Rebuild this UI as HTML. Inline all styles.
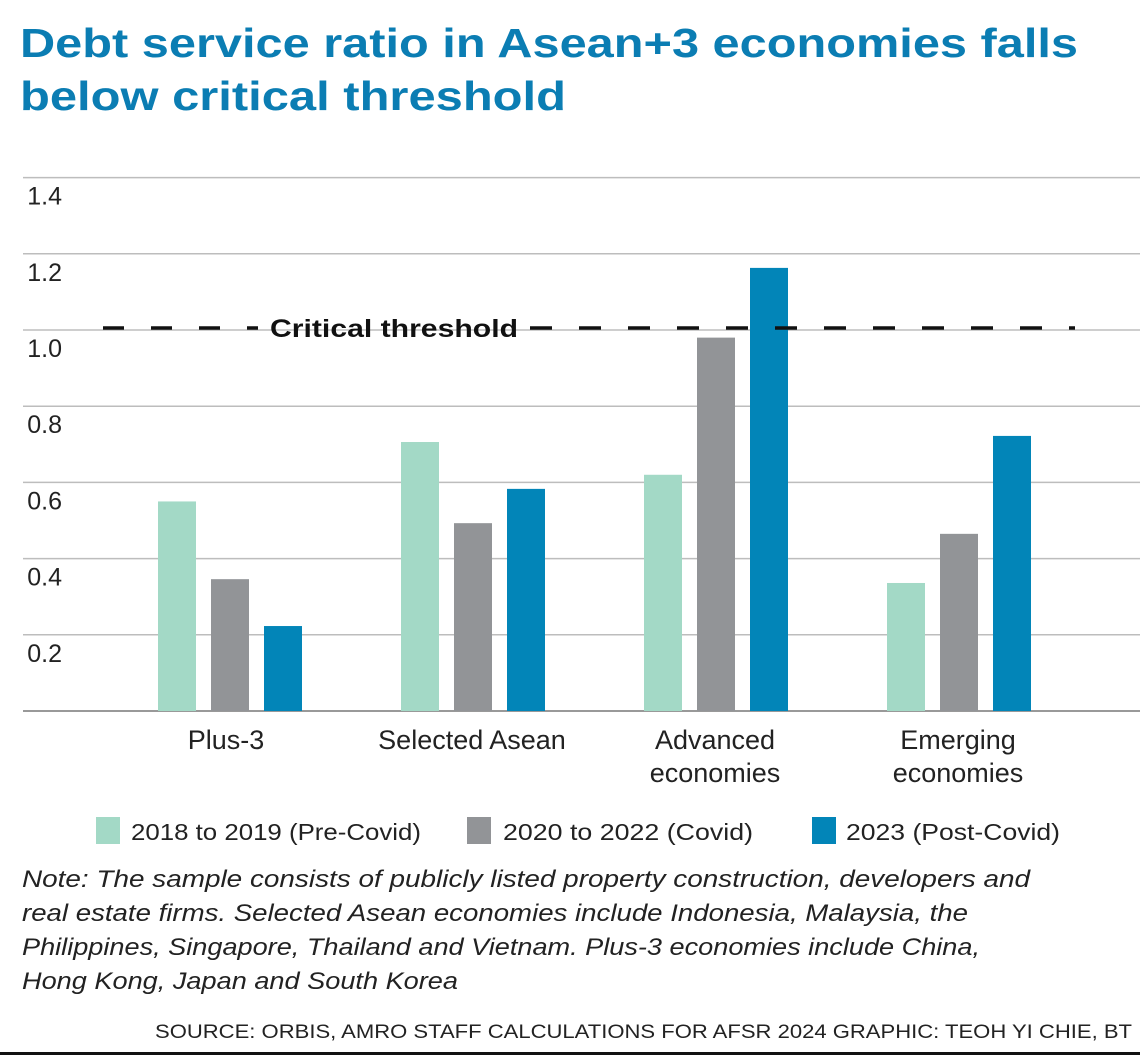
<!DOCTYPE html>
<html><head><meta charset="utf-8"><style>
html,body{margin:0;padding:0;background:#fff;}
svg{display:block;font-family:"Liberation Sans",sans-serif;}
</style></head><body>
<svg id="chart" width="1140" height="1056" viewBox="0 0 1140 1056" xmlns="http://www.w3.org/2000/svg">
<text x="20" y="57" font-size="41" font-weight="bold" fill="#0b7db3" textLength="1058" lengthAdjust="spacingAndGlyphs">Debt service ratio in Asean+3 economies falls</text>
<text x="20" y="110" font-size="41" font-weight="bold" fill="#0b7db3" textLength="546" lengthAdjust="spacingAndGlyphs">below critical threshold</text>
<g id="grid"></g><g id="bars"></g><g id="cats"></g>
<g>
<rect x="96" y="817" width="24" height="27" fill="#a3d9c6"/>
<text x="131" y="840" font-size="23" fill="#222" textLength="290" lengthAdjust="spacingAndGlyphs">2018 to 2019 (Pre-Covid)</text>
<rect x="467" y="817" width="24" height="27" fill="#929497"/>
<text x="503" y="840" font-size="23" fill="#222" textLength="250" lengthAdjust="spacingAndGlyphs">2020 to 2022 (Covid)</text>
<rect x="812" y="817" width="24" height="27" fill="#0285b8"/>
<text x="846" y="840" font-size="23" fill="#222" textLength="214" lengthAdjust="spacingAndGlyphs">2023 (Post-Covid)</text>
</g>
<g font-size="24" font-style="italic" fill="#222">
<text x="22" y="887" textLength="1008" lengthAdjust="spacingAndGlyphs">Note: The sample consists of publicly listed property construction, developers and</text>
<text x="22" y="921" textLength="946" lengthAdjust="spacingAndGlyphs">real estate firms. Selected Asean economies include Indonesia, Malaysia, the</text>
<text x="22" y="955" textLength="958" lengthAdjust="spacingAndGlyphs">Philippines, Singapore, Thailand and Vietnam. Plus-3 economies include China,</text>
<text x="22" y="989" textLength="436" lengthAdjust="spacingAndGlyphs">Hong Kong, Japan and South Korea</text>
</g>
<text x="155" y="1038" font-size="19" fill="#222" textLength="977" lengthAdjust="spacingAndGlyphs">SOURCE: ORBIS, AMRO STAFF CALCULATIONS FOR AFSR 2024   GRAPHIC: TEOH YI CHIE, BT</text>
<rect x="0" y="1052" width="1140" height="3" fill="#111"/>
</svg>
<script>
const categories=[["Plus-3"],["Selected Asean"],["Advanced","economies"],["Emerging","economies"]];
const preCovid=[0.55,0.706,0.62,0.336];
const covid=[0.346,0.493,0.98,0.465];
const postCovid=[0.223,0.583,1.163,0.722];
const ticks=[0.2,0.4,0.6,0.8,1.0,1.2,1.4];
const tickLabels=["0.2","0.4","0.6","0.8","1.0","1.2","1.4"];
const threshold=1.0;
const NS="http://www.w3.org/2000/svg";
const y=v=>711-v*381;
const gx=i=>229+i*243;
function mk(tag,attrs,parent){const e=document.createElementNS(NS,tag);for(const k in attrs)e.setAttribute(k,attrs[k]);parent.appendChild(e);return e;}
const grid=document.getElementById('grid');
ticks.forEach((t,i)=>{
 const l=mk('line',{x1:23,x2:1140,y1:y(t),y2:y(t),stroke:'#bdbdbd','stroke-width':1.5},grid);
 
 
 const tx=mk('text',{x:62,y:y(t)+27,'font-size':25,'text-anchor':'end',fill:'#222'},grid);
 tx.textContent=tickLabels[i];
 
 
});
const ax=mk('line',{x1:23,x2:1140,y1:y(0),y2:y(0),stroke:'#999','stroke-width':2},grid);


const bars=document.getElementById('bars');
const series=[preCovid,covid,postCovid];const cols=['#a3d9c6','#929497','#0285b8'];
categories.forEach((c,i)=>{
 series.forEach((s,j)=>{
  const x=gx(i)-71+j*53;
  const r=mk('rect',{x:x,y:y(s[i]),width:38,height:y(0)-y(s[i]),fill:cols[j]},bars);
  
  
 });
});
const th=mk('line',{x1:103,x2:258,y1:y(threshold)-2,y2:y(threshold)-2,stroke:'#111','stroke-width':3.5,'stroke-dasharray':'21,27'},bars);


const th2=mk('line',{x1:530,x2:1075,y1:y(threshold)-2,y2:y(threshold)-2,stroke:'#111','stroke-width':3.5,'stroke-dasharray':'22,27'},bars);


const tl=mk('text',{x:270,y:y(threshold)+7,'font-size':25,'font-weight':'bold',fill:'#111',textLength:248,lengthAdjust:'spacingAndGlyphs'},bars);
tl.textContent='Critical threshold';


const cats=document.getElementById('cats');
categories.forEach((c,i)=>{
 c.forEach((line,k)=>{
  const t=mk('text',{x:gx(i)-(i==0?3:0),y:749+k*33,'font-size':27,'text-anchor':'middle',fill:'#222'},cats);
  t.textContent=line;
  
  
 });
});
</script>
</body></html>
